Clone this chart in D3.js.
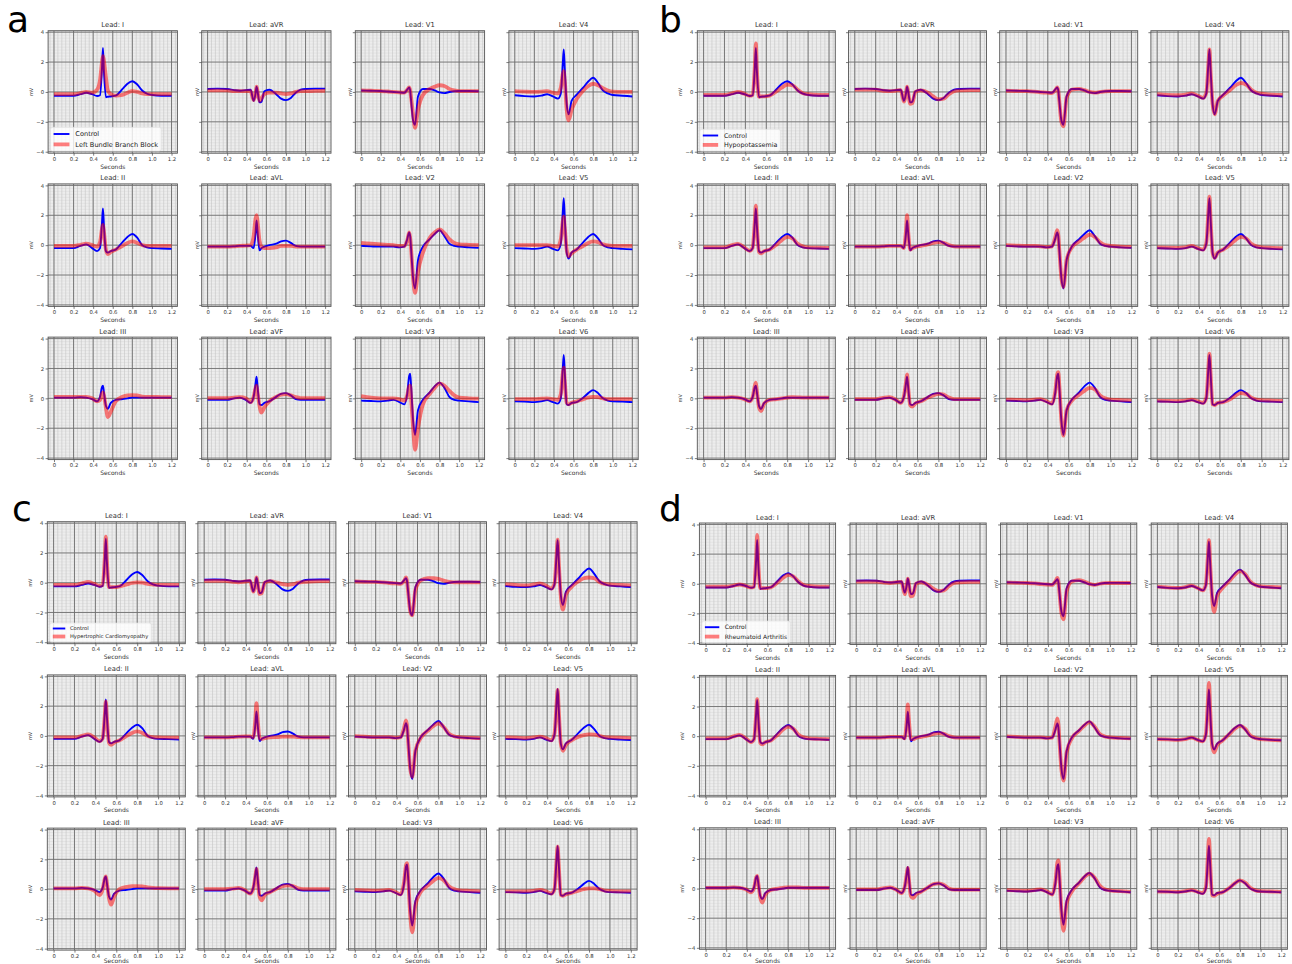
<!DOCTYPE html>
<html>
<head>
<meta charset="utf-8">
<script src="https://cdn.jsdelivr.net/npm/d3@7"></script>
<style>
  body { margin: 0; background: #fff; }
  svg { display: block; }
  text { font-family: "DejaVu Sans", sans-serif; fill: #333; }
</style>
</head>
<body>
<svg id="chart" width="1292" height="964"></svg>
<script>
const knots = [0, 0.1, 0.2, 0.27, 0.33, 0.39, 0.44, 0.47, 0.49, 0.5, 0.51, 0.53, 0.55, 0.58, 0.63, 0.7, 0.75, 0.8, 0.85, 0.9, 0.95, 1.0, 1.1, 1.2];

// grid order, row by row
const leads = ["I", "aVR", "V1", "V4", "II", "aVL", "V2", "V5", "III", "aVF", "V3", "V6"];

const conditions = ["Left Bundle Branch Block", "Hypopotassemia", "Hypertrophic Cardiomyopathy", "Rheumatoid Arthritis"];

// mV, one row per lead (same order as leads)
const control = [
  [-0.25,-0.25,-0.25,-0.15,-0.05,-0.15,-0.27,-0.22,1.6,2.95,1.4,-0.35,-0.32,-0.3,-0.25,0.2,0.55,0.72,0.5,0.1,-0.12,-0.2,-0.25,-0.25],
  [0.2,0.22,0.2,0.12,0.08,0.12,0.15,-0.6,-0.1,0.35,0.05,-0.7,-0.65,0.05,0.15,-0.15,-0.45,-0.55,-0.4,-0.05,0.15,0.2,0.22,0.22],
  [0.1,0.08,0.06,0.03,0.0,-0.03,-0.05,0.15,0.3,0.1,-0.6,-1.9,-2.2,-0.3,0.2,0.2,0.1,-0.03,-0.08,0.0,0.05,0.06,0.06,0.05],
  [-0.22,-0.28,-0.3,-0.25,-0.15,-0.3,-0.45,-0.1,1.9,2.85,1.6,-0.8,-1.5,-0.6,-0.2,0.3,0.7,0.95,0.6,0.1,-0.1,-0.2,-0.25,-0.3],
  [-0.2,-0.2,-0.2,-0.05,0.05,-0.2,-0.4,-0.2,1.5,2.45,1.3,-0.4,-0.5,-0.4,-0.3,0.2,0.55,0.75,0.5,0.0,-0.15,-0.2,-0.22,-0.25],
  [-0.1,-0.1,-0.1,-0.08,-0.05,-0.05,-0.05,-0.2,0.8,1.65,0.9,-0.35,-0.2,-0.1,0.0,0.1,0.25,0.3,0.15,-0.05,-0.1,-0.1,-0.1,-0.1],
  [-0.05,-0.08,-0.1,-0.1,-0.1,-0.15,-0.1,0.4,0.85,0.6,-0.3,-2.2,-2.9,-1.0,-0.1,0.4,0.75,1.0,0.6,0.1,-0.05,-0.1,-0.15,-0.18],
  [-0.2,-0.22,-0.25,-0.2,-0.1,-0.25,-0.35,0.1,2.2,3.15,1.9,-0.5,-0.9,-0.5,-0.3,0.2,0.55,0.75,0.45,0.0,-0.15,-0.2,-0.25,-0.28],
  [0.05,0.05,0.05,0.08,0.05,-0.05,-0.2,0.1,0.75,0.85,0.4,-0.5,-0.7,-0.3,-0.1,-0.05,0.0,0.05,0.05,0.05,0.05,0.05,0.05,0.05],
  [-0.1,-0.1,-0.1,0.0,0.05,-0.1,-0.3,0.1,1.0,1.45,0.8,-0.4,-0.45,-0.3,-0.2,0.1,0.3,0.35,0.2,-0.05,-0.1,-0.1,-0.1,-0.1],
  [-0.15,-0.18,-0.2,-0.15,-0.1,-0.25,-0.4,0.3,1.5,1.65,0.8,-1.5,-2.45,-0.8,-0.1,0.4,0.8,1.05,0.7,0.1,-0.1,-0.15,-0.2,-0.25],
  [-0.2,-0.22,-0.25,-0.2,-0.12,-0.25,-0.35,0.0,2.0,2.9,1.8,-0.4,-0.45,-0.3,-0.25,0.05,0.35,0.55,0.35,0.0,-0.15,-0.2,-0.22,-0.25]
];

const lbbb = [
  [-0.15,-0.15,-0.15,-0.08,0.0,-0.05,0.15,0.8,2.0,2.4,2.1,1.0,0.1,-0.15,-0.25,-0.2,-0.05,0.05,0.0,-0.1,-0.15,-0.15,-0.15,-0.15],
  [0.1,0.1,0.1,0.06,0.05,0.05,0.05,-0.55,-0.1,0.35,0.05,-0.6,-0.45,-0.15,-0.05,-0.05,-0.1,-0.15,-0.1,0.0,0.05,0.05,0.07,0.08],
  [0.1,0.08,0.06,0.03,0.0,-0.03,-0.05,0.15,0.3,0.1,-0.4,-1.5,-2.4,-1.2,-0.2,0.2,0.35,0.45,0.4,0.2,0.1,0.05,0.05,0.05],
  [0.05,0.02,0.0,0.02,0.05,-0.05,-0.1,0.3,1.2,1.4,0.8,-1.2,-1.9,-1.2,-0.5,0.1,0.4,0.55,0.45,0.25,0.1,0.02,0.0,0.0],
  [-0.05,-0.05,-0.05,0.02,0.1,0.0,-0.1,0.2,1.1,1.35,0.9,-0.3,-0.6,-0.45,-0.3,-0.05,0.15,0.25,0.15,0.0,-0.05,-0.05,-0.05,-0.05],
  [-0.1,-0.1,-0.1,-0.08,-0.05,-0.03,0.0,0.6,1.8,2.0,1.6,0.3,-0.1,-0.2,-0.2,-0.15,-0.05,-0.05,-0.05,-0.1,-0.1,-0.1,-0.1,-0.1],
  [0.15,0.1,0.05,0.02,0.0,-0.05,-0.05,0.3,0.85,0.5,-0.3,-2.2,-3.2,-1.8,-0.5,0.5,0.85,1.05,0.8,0.4,0.15,0.05,0.02,0.0],
  [0.0,0.0,0.0,0.0,0.0,-0.05,-0.1,0.4,1.6,1.9,1.2,-0.3,-0.75,-0.55,-0.3,-0.05,0.15,0.25,0.2,0.05,-0.02,-0.05,-0.05,-0.05],
  [0.1,0.1,0.1,0.1,0.1,0.0,-0.2,-0.1,0.3,0.4,0.2,-0.6,-1.25,-0.9,-0.2,0.1,0.2,0.22,0.2,0.12,0.1,0.1,0.08,0.08],
  [0.02,0.02,0.02,0.05,0.08,0.0,-0.25,0.1,0.7,0.85,0.4,-0.5,-0.95,-0.6,-0.2,0.1,0.25,0.28,0.2,0.08,0.02,0.02,0.02,0.02],
  [0.15,0.05,0.0,0.0,0.0,-0.05,-0.15,0.2,0.8,0.85,0.0,-2.0,-3.45,-2.0,-0.4,0.3,0.7,1.0,0.85,0.5,0.2,0.05,0.0,-0.02],
  [-0.05,-0.05,-0.05,-0.02,0.0,-0.05,-0.1,0.3,1.7,2.05,1.2,-0.3,-0.4,-0.3,-0.2,-0.05,0.05,0.1,0.08,0.0,-0.05,-0.05,-0.05,-0.05]
];

const hypoK = [
  [-0.2,-0.2,-0.2,-0.1,0.0,-0.12,-0.25,-0.2,1.7,3.25,1.5,-0.32,-0.3,-0.3,-0.25,0.05,0.3,0.5,0.45,0.15,-0.08,-0.15,-0.2,-0.2],
  [0.15,0.15,0.15,0.08,0.05,0.08,0.12,-0.65,-0.1,0.35,0.0,-0.8,-0.75,0.0,0.1,-0.05,-0.3,-0.5,-0.45,-0.15,0.05,0.1,0.12,0.12],
  [0.08,0.06,0.05,0.02,-0.02,-0.05,-0.08,0.1,0.3,0.1,-0.6,-2.0,-2.3,-0.4,0.15,0.2,0.12,0.0,-0.05,0.0,0.04,0.05,0.05,0.05],
  [-0.15,-0.2,-0.22,-0.18,-0.1,-0.25,-0.4,-0.05,1.9,2.85,1.5,-0.8,-1.5,-0.6,-0.25,0.15,0.45,0.6,0.5,0.15,-0.05,-0.12,-0.18,-0.2],
  [-0.15,-0.15,-0.15,0.0,0.08,-0.15,-0.38,-0.15,1.6,2.65,1.3,-0.45,-0.55,-0.4,-0.3,0.05,0.35,0.55,0.45,0.1,-0.08,-0.15,-0.17,-0.18],
  [-0.1,-0.1,-0.1,-0.08,-0.05,-0.05,-0.05,-0.2,1.0,2.0,1.0,-0.3,-0.2,-0.12,-0.05,0.05,0.15,0.2,0.15,0.0,-0.08,-0.1,-0.1,-0.1],
  [0.0,-0.03,-0.05,-0.05,-0.08,-0.12,-0.08,0.5,1.0,0.7,-0.3,-2.2,-2.8,-1.0,-0.15,0.25,0.5,0.7,0.55,0.2,0.0,-0.05,-0.1,-0.12],
  [-0.15,-0.17,-0.18,-0.15,-0.05,-0.2,-0.3,0.15,2.3,3.25,1.9,-0.5,-0.85,-0.5,-0.3,0.05,0.35,0.55,0.45,0.1,-0.08,-0.15,-0.18,-0.2],
  [0.05,0.05,0.05,0.08,0.05,-0.05,-0.2,0.1,0.85,1.05,0.5,-0.6,-0.85,-0.35,-0.1,-0.05,0.0,0.05,0.08,0.07,0.05,0.05,0.05,0.05],
  [-0.05,-0.05,-0.05,0.03,0.08,-0.08,-0.3,0.15,1.1,1.6,0.8,-0.45,-0.55,-0.35,-0.2,0.05,0.2,0.3,0.25,0.05,-0.05,-0.05,-0.05,-0.05],
  [-0.08,-0.1,-0.12,-0.08,-0.05,-0.2,-0.35,0.4,1.6,1.75,0.9,-1.5,-2.5,-0.8,-0.15,0.25,0.5,0.7,0.6,0.2,0.0,-0.08,-0.12,-0.15],
  [-0.15,-0.17,-0.18,-0.15,-0.08,-0.2,-0.3,0.05,2.1,3.0,1.8,-0.4,-0.45,-0.3,-0.25,-0.05,0.2,0.35,0.3,0.05,-0.08,-0.12,-0.15,-0.17]
];

const hcm = [
  [-0.15,-0.15,-0.15,-0.05,0.05,-0.08,-0.2,-0.15,1.7,3.1,1.5,-0.3,-0.3,-0.3,-0.25,-0.12,-0.02,0.02,0.0,-0.08,-0.12,-0.15,-0.15,-0.15],
  [0.12,0.12,0.12,0.06,0.03,0.08,0.12,-0.6,-0.1,0.35,0.05,-0.75,-0.7,0.0,0.1,0.0,-0.1,-0.15,-0.1,0.0,0.05,0.08,0.1,0.1],
  [0.08,0.06,0.05,0.02,-0.02,-0.05,-0.08,0.1,0.35,0.1,-0.6,-1.9,-2.2,-0.5,0.15,0.3,0.3,0.25,0.15,0.05,0.02,0.02,0.02,0.02],
  [-0.1,-0.15,-0.18,-0.12,-0.05,-0.2,-0.4,-0.05,1.9,2.9,1.5,-0.9,-1.8,-0.8,-0.3,0.1,0.3,0.35,0.3,0.05,-0.08,-0.12,-0.15,-0.18],
  [-0.1,-0.1,-0.1,0.0,0.1,-0.1,-0.35,-0.15,1.4,2.3,1.2,-0.45,-0.6,-0.45,-0.3,0.0,0.2,0.3,0.2,0.0,-0.08,-0.1,-0.12,-0.12],
  [-0.1,-0.1,-0.1,-0.08,-0.05,-0.03,-0.03,-0.1,1.2,2.2,1.3,-0.15,-0.2,-0.15,-0.1,-0.08,-0.05,-0.05,-0.05,-0.08,-0.1,-0.1,-0.1,-0.1],
  [-0.02,-0.05,-0.08,-0.08,-0.08,-0.12,-0.08,0.5,1.05,0.7,-0.3,-2.2,-2.75,-1.0,-0.15,0.35,0.65,0.85,0.6,0.15,-0.02,-0.08,-0.12,-0.15],
  [-0.1,-0.12,-0.15,-0.1,-0.05,-0.15,-0.3,0.15,2.2,3.1,1.8,-0.5,-1.0,-0.6,-0.3,-0.05,0.05,0.1,0.08,0.0,-0.08,-0.1,-0.12,-0.15],
  [0.05,0.05,0.05,0.08,0.05,-0.1,-0.4,0.0,0.7,0.85,0.4,-0.6,-1.05,-0.5,0.0,0.15,0.2,0.2,0.18,0.12,0.08,0.06,0.05,0.05],
  [0.0,0.0,0.0,0.03,0.08,-0.08,-0.3,0.05,0.9,1.35,0.7,-0.5,-0.75,-0.4,-0.2,0.05,0.2,0.25,0.2,0.05,0.0,0.0,0.0,0.0],
  [-0.05,-0.08,-0.1,-0.08,-0.05,-0.2,-0.35,0.4,1.6,1.75,0.8,-1.7,-2.9,-1.1,-0.2,0.25,0.55,0.75,0.6,0.2,0.0,-0.08,-0.12,-0.15],
  [-0.15,-0.15,-0.15,-0.12,-0.05,-0.15,-0.3,0.0,2.0,2.85,1.7,-0.4,-0.45,-0.35,-0.25,-0.1,0.0,0.05,0.05,0.0,-0.1,-0.12,-0.15,-0.15]
];

const ra = [
  [-0.2,-0.2,-0.2,-0.12,-0.05,-0.15,-0.25,-0.2,1.8,3.3,1.6,-0.3,-0.3,-0.3,-0.25,0.1,0.4,0.6,0.5,0.15,-0.08,-0.15,-0.2,-0.2],
  [0.15,0.15,0.15,0.08,0.05,0.1,0.12,-0.7,-0.1,0.35,0.0,-0.85,-0.8,0.0,0.1,-0.1,-0.35,-0.5,-0.45,-0.15,0.05,0.1,0.12,0.12],
  [0.08,0.06,0.05,0.02,-0.02,-0.05,-0.08,0.15,0.4,0.15,-0.6,-2.0,-2.4,-0.5,0.15,0.25,0.15,0.0,-0.08,0.0,0.04,0.05,0.05,0.05],
  [-0.2,-0.25,-0.28,-0.22,-0.12,-0.28,-0.45,-0.05,2.0,2.95,1.6,-0.9,-1.9,-0.8,-0.3,0.2,0.6,0.85,0.65,0.15,-0.08,-0.18,-0.22,-0.25],
  [-0.15,-0.15,-0.15,-0.02,0.08,-0.15,-0.4,-0.2,1.5,2.5,1.3,-0.45,-0.55,-0.4,-0.3,0.1,0.45,0.65,0.5,0.1,-0.08,-0.15,-0.18,-0.2],
  [-0.1,-0.1,-0.1,-0.08,-0.05,-0.05,-0.05,-0.15,1.1,2.15,1.2,-0.2,-0.2,-0.12,-0.05,0.05,0.15,0.2,0.15,0.0,-0.08,-0.1,-0.1,-0.1],
  [-0.02,-0.05,-0.08,-0.08,-0.08,-0.12,-0.1,0.6,1.2,0.8,-0.3,-2.3,-3.0,-1.1,-0.15,0.35,0.7,0.95,0.65,0.15,-0.02,-0.08,-0.12,-0.15],
  [-0.2,-0.22,-0.25,-0.2,-0.1,-0.25,-0.35,0.15,2.5,3.6,2.1,-0.6,-1.1,-0.6,-0.3,0.15,0.5,0.7,0.5,0.05,-0.12,-0.2,-0.25,-0.28],
  [0.05,0.05,0.05,0.08,0.05,-0.05,-0.25,0.05,0.75,0.85,0.4,-0.6,-0.95,-0.4,-0.1,0.0,0.05,0.08,0.08,0.07,0.05,0.05,0.05,0.05],
  [-0.05,-0.05,-0.05,0.03,0.08,-0.08,-0.3,0.1,1.0,1.4,0.7,-0.5,-0.65,-0.4,-0.2,0.1,0.3,0.35,0.25,0.0,-0.07,-0.07,-0.07,-0.07],
  [-0.1,-0.12,-0.15,-0.1,-0.05,-0.2,-0.4,0.4,1.75,1.9,0.9,-1.6,-2.85,-1.0,-0.2,0.35,0.75,1.0,0.75,0.2,-0.05,-0.12,-0.18,-0.22],
  [-0.2,-0.2,-0.22,-0.18,-0.1,-0.22,-0.3,0.1,2.3,3.35,2.0,-0.45,-0.5,-0.35,-0.25,0.05,0.35,0.55,0.4,0.05,-0.12,-0.18,-0.2,-0.22]
];

const xTicks = [0, 0.2, 0.4, 0.6, 0.8, 1.0, 1.2];
const xTickLabels = ["0", "0.2", "0.4", "0.6", "0.8", "1.0", "1.2"];
const yTicks = [-4, -2, 0, 2, 4];
const yTickLabels = ["\u22124", "\u22122", "0", "2", "4"];

// panel placement (pixels)
const panels = [
  { letter: "a", series: lbbb,  name: conditions[0], lx: 7,   ly: 32,  x0: 48.1,  pitch: 153.6, w: 129.3, y0: 30.7,  rowPitch: 153.2, h: 122.5, legFont: 6.6, legTop: 96.6, legRow: 10.4 },
  { letter: "b", series: hypoK, name: conditions[1], lx: 659, ly: 32,  x0: 697.3, pitch: 151.2, w: 138,   y0: 30.7,  rowPitch: 153.2, h: 122.5, legFont: 6.4, legTop: 98.6, legRow: 9.4 },
  { letter: "c", series: hcm,   name: conditions[2], lx: 12,  ly: 521, x0: 47.3,  pitch: 150.6, w: 138,   y0: 521.7, rowPitch: 153.2, h: 122,   legFont: 5.2, legTop: 101.3, legRow: 8 },
  { letter: "d", series: ra,    name: conditions[3], lx: 659, ly: 521, x0: 699.4, pitch: 150.6, w: 136.2, y0: 523,   rowPitch: 152.4, h: 121.5, legFont: 6.0, legTop: 98,   legRow: 9.4 }
];

const svg = d3.select("#chart");
svg.append("rect").attr("width", 1292).attr("height", 964).attr("fill", "#fff");

const line = d3.line().curve(d3.curveMonotoneX);
let clipCount = 0;

panels.forEach((p) => {
  svg.append("text")
    .attr("x", p.lx).attr("y", p.ly)
    .attr("font-family", "'Open Sans', 'Liberation Sans', sans-serif")
    .attr("font-size", 36)
    .style("fill", "#000")
    .text(p.letter);

  leads.forEach((lead, li) => {
    const col = li % 4, row = Math.floor(li / 4);
    const left = p.x0 + col * p.pitch;
    const top = p.y0 + row * p.rowPitch;
    const x = d3.scaleLinear().domain([-0.06, 1.26]).range([left, left + p.w]);
    const y = d3.scaleLinear().domain([-4.1, 4.1]).range([top + p.h, top]);
    const g = svg.append("g");

    const cid = "clip" + (clipCount++);
    g.append("clipPath").attr("id", cid)
      .append("rect").attr("x", left).attr("y", top).attr("width", p.w).attr("height", p.h);

    g.append("rect").attr("x", left).attr("y", top).attr("width", p.w).attr("height", p.h)
      .attr("fill", "#ededed");

    // minor grid
    const grid = g.append("g").attr("clip-path", `url(#${cid})`);
    grid.selectAll(".hm").data(d3.range(-4, 4.01, 0.2)).join("line")
      .attr("x1", left).attr("x2", left + p.w)
      .attr("y1", (d) => y(d)).attr("y2", (d) => y(d))
      .attr("stroke", "#d8d8d8").attr("stroke-width", 0.5);
    grid.selectAll(".vm").data(d3.range(-0.04, 1.27, 0.04)).join("line")
      .attr("y1", top).attr("y2", top + p.h)
      .attr("x1", (d) => x(d)).attr("x2", (d) => x(d))
      .attr("stroke", "#c4c4c4").attr("stroke-width", 0.6);
    // major grid
    grid.selectAll(".hM").data(yTicks).join("line")
      .attr("x1", left).attr("x2", left + p.w)
      .attr("y1", (d) => y(d)).attr("y2", (d) => y(d))
      .attr("stroke", "#6e6e6e").attr("stroke-width", 0.9);
    grid.selectAll(".vM").data(xTicks).join("line")
      .attr("y1", top).attr("y2", top + p.h)
      .attr("x1", (d) => x(d)).attr("x2", (d) => x(d))
      .attr("stroke", "#6e6e6e").attr("stroke-width", 0.9);

    const traces = g.append("g").attr("clip-path", `url(#${cid})`);
    traces.append("path")
      .attr("d", line(knots.map((t, i) => [x(t), y(control[li][i])])))
      .attr("fill", "none").attr("stroke", "#0000ff").attr("stroke-width", 1.9)
      .attr("stroke-linejoin", "round");
    traces.append("path")
      .attr("d", line(knots.map((t, i) => [x(t), y(p.series[li][i])])))
      .attr("fill", "none").attr("stroke", "#ff0000").attr("stroke-opacity", 0.5)
      .attr("stroke-width", 3.8).attr("stroke-linejoin", "round");

    g.append("rect").attr("x", left).attr("y", top).attr("width", p.w).attr("height", p.h)
      .attr("fill", "none").attr("stroke", "#555").attr("stroke-width", 0.9);

    // axes
    const xa = g.append("g").attr("transform", `translate(0,${top + p.h})`)
      .call(d3.axisBottom(x).tickValues(xTicks).tickSize(2.5).tickPadding(1.5)
        .tickFormat((d, i) => xTickLabels[i]));
    const ya = g.append("g").attr("transform", `translate(${left},0)`)
      .call(d3.axisLeft(y).tickValues(yTicks).tickSize(2.5).tickPadding(1.5)
        .tickFormat((d, i) => (col === 0 ? yTickLabels[i] : "")));
    [xa, ya].forEach((a) => {
      a.select(".domain").remove();
      a.selectAll(".tick line").attr("stroke", "#444").attr("stroke-width", 0.7);
      a.selectAll("text").attr("font-size", 5.3).style("fill", "#333");
    });

    g.append("text")
      .attr("x", left + p.w / 2).attr("y", top - 3.5)
      .attr("text-anchor", "middle").attr("font-size", 6.8)
      .text("Lead: " + lead);
    // bottom row of the lower panels sits at the page edge
    g.append("text")
      .attr("x", left + p.w / 2).attr("y", Math.min(top + p.h + 15.5, 963))
      .attr("text-anchor", "middle").attr("font-size", 6)
      .text("Seconds");
    const mx = col === 0 ? left - 15 : left - 3;
    g.append("text")
      .attr("transform", `translate(${mx},${y(0)}) rotate(-90)`)
      .attr("text-anchor", "middle").attr("font-size", 5)
      .text("mV");

    // legend in first subplot
    if (li === 0) {
      const lg = g.append("g").attr("transform", `translate(${left + 2.5},${top + p.legTop})`);
      const box = lg.append("rect").attr("rx", 2).attr("ry", 2)
        .attr("fill", "#fff").attr("fill-opacity", 0.8)
        .attr("stroke", "#ddd").attr("stroke-width", 0.6);
      const hx = 3, hw = p.legFont * 2.4, tx = hx + hw + p.legFont * 0.9;
      const items = [["Control", "#0000ff", 1.9, 1], [p.name, "#ff0000", 3.8, 0.5]];
      let maxW = 0;
      items.forEach((it, k) => {
        const cy = p.legRow * 0.5 + 1.5 + k * p.legRow;
        lg.append("line").attr("x1", hx).attr("x2", hx + hw).attr("y1", cy).attr("y2", cy)
          .attr("stroke", it[1]).attr("stroke-width", it[2]).attr("stroke-opacity", it[3]);
        const t = lg.append("text").attr("x", tx).attr("y", cy).attr("dy", "0.35em")
          .attr("font-size", p.legFont).style("fill", "#222").text(it[0]);
        maxW = Math.max(maxW, t.node().getComputedTextLength());
      });
      box.attr("width", tx + maxW + 3).attr("height", p.legRow * 2 + 3);
    }
  });
});
</script>
</body>
</html>
